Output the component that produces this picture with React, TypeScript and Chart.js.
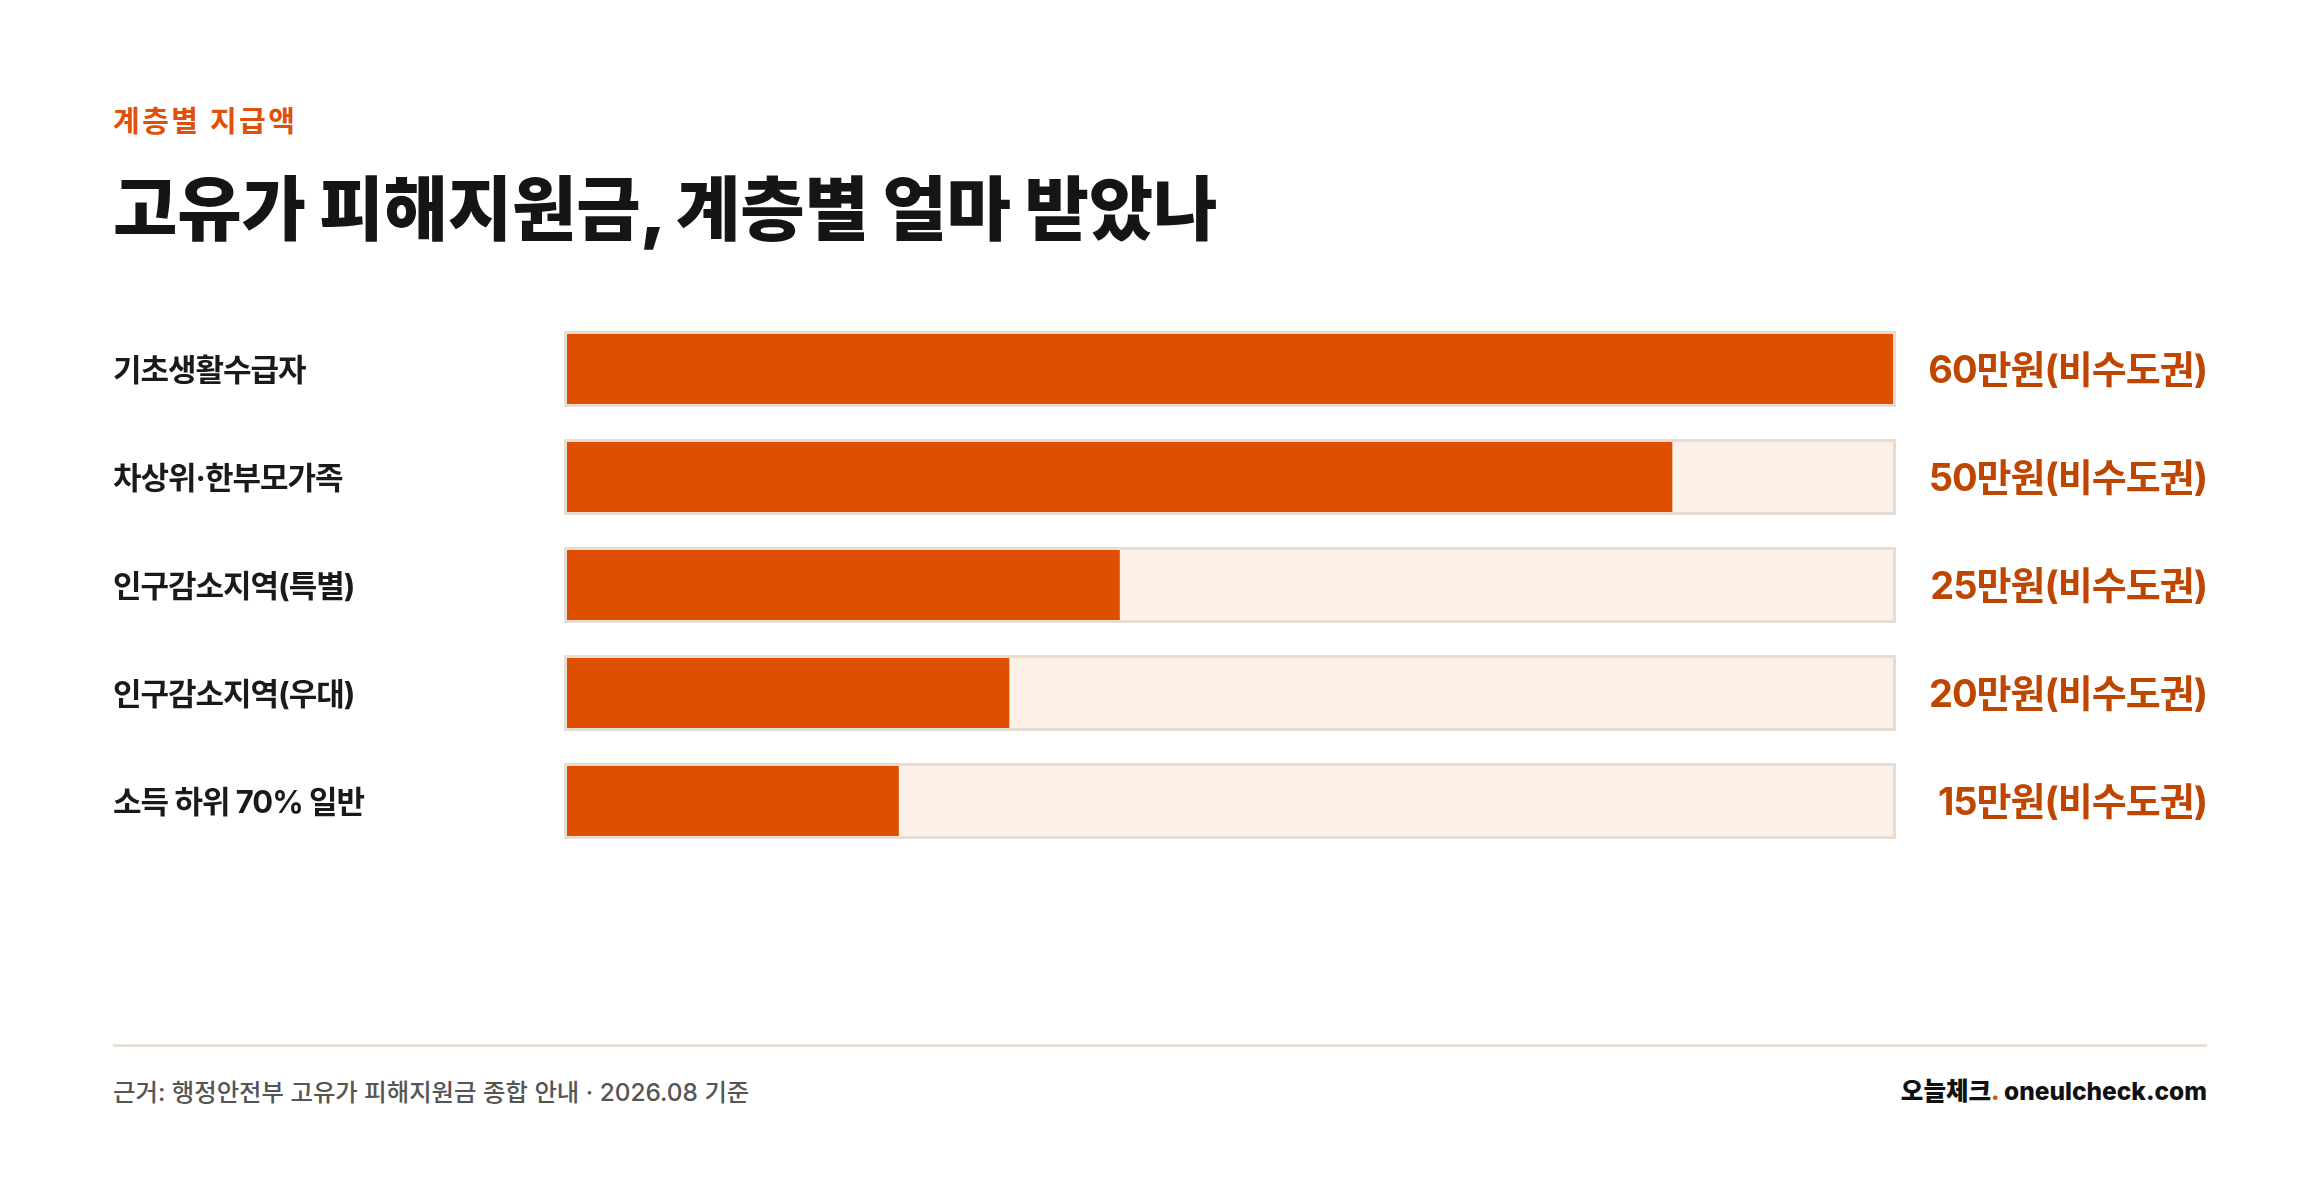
import React, { useEffect, useRef } from 'react';
import { Chart, registerables } from 'chart.js';

Chart.register(...registerables);

// 계층별 지급액 (단위: 만원)
const categories = ['기초생활수급자', '차상위·한부모가족', '인구감소지역(특별)', '인구감소지역(우대)', '소득 하위 70% 일반'];
const amounts = [60, 50, 25, 20, 15];
const amountLabels = ['60만원(비수도권)', '50만원(비수도권)', '25만원(비수도권)', '20만원(비수도권)', '15만원(비수도권)'];
const maxAmount = 60;

const FONT = "Inter, 'Noto Sans CJK KR', sans-serif";
const ORANGE = '#df4f00';
const TRACK_BG = '#fdf1e7';
const TRACK_LINE = '#e7ddd3';

// 배경 막대 테두리 + 글자 간격
const trackBorder = {
  id: 'trackBorder',
  beforeDraw(chart: any) {
    chart.ctx.letterSpacing = '-1px';
  },
  afterDatasetsDraw(chart: any) {
    const meta = chart.getDatasetMeta(1);
    const ctx = chart.ctx;
    ctx.save();
    ctx.strokeStyle = TRACK_LINE;
    ctx.lineWidth = 3;
    meta.data.forEach((bar: any) => {
      const { x, y, base, height } = bar.getProps(['x', 'y', 'base', 'height'], true);
      ctx.strokeRect(base - 1.5, y - height / 2 - 1.5, x - base + 3, height + 3);
    });
    ctx.restore();
  },
};

// 축 폭 고정, 라벨 때문에 생기는 위아래 여백 제거
const fitAxis = (width: number) => (scale: any) => {
  scale.width = width;
  scale.paddingTop = 0;
  scale.paddingBottom = 0;
};

const BarChart: React.FC = () => {
  const chartRef = useRef<HTMLCanvasElement | null>(null);
  const chartInstance = useRef<Chart | null>(null);

  useEffect(() => {
    if (!chartRef.current) return;
    if (chartInstance.current) chartInstance.current.destroy();

    chartInstance.current = new Chart(chartRef.current, {
      type: 'bar',
      data: {
        labels: categories,
        datasets: [
          {
            data: amounts,
            backgroundColor: ORANGE,
            borderWidth: 0,
            barThickness: 70,
            grouped: false,
          },
          {
            data: categories.map(() => maxAmount),
            backgroundColor: TRACK_BG,
            borderWidth: 0,
            barThickness: 70,
            grouped: false,
          },
        ],
      },
      options: {
        indexAxis: 'y',
        animation: false,
        responsive: true,
        maintainAspectRatio: false,
        layout: { padding: 0 },
        plugins: {
          legend: { display: false },
          tooltip: { enabled: false },
        },
        scales: {
          x: { min: 0, max: maxAmount, display: false },
          y: {
            position: 'left',
            grid: { display: false },
            border: { display: false },
            ticks: {
              crossAlign: 'far',
              labelOffset: 3,
              color: '#1a1a1a',
              font: { family: FONT, size: 31, weight: 'bold' },
            },
            afterFit: fitAxis(454),
          },
          y2: {
            type: 'category',
            labels: amountLabels,
            position: 'right',
            grid: { display: false },
            border: { display: false },
            ticks: {
              crossAlign: 'far',
              labelOffset: 3,
              color: '#bf4600',
              font: { family: FONT, size: 38, weight: 'bold' },
            },
            afterFit: fitAxis(314),
          },
        },
      },
      plugins: [trackBorder],
    });

    return () => {
      if (chartInstance.current) {
        chartInstance.current.destroy();
        chartInstance.current = null;
      }
    };
  }, []);

  return (
    <div style={{ position: 'absolute', left: 113, top: 315, width: 2094, height: 540 }}>
      <canvas ref={chartRef}></canvas>
    </div>
  );
};

const App: React.FC = () => {
  return (
    <div
      style={{
        position: 'absolute',
        left: 0,
        top: 0,
        width: 2320,
        height: 1190,
        background: '#ffffff',
        fontFamily: FONT,
        overflow: 'hidden',
      }}
    >
      <div
        style={{
          position: 'absolute',
          left: 113,
          top: 107,
          fontSize: 29,
          lineHeight: 1,
          fontWeight: 700,
          color: '#e0500a',
          letterSpacing: 2.5,
          whiteSpace: 'nowrap',
        }}
      >
        계층별 지급액
      </div>
      <div
        style={{
          position: 'absolute',
          left: 113,
          top: 175,
          fontSize: 70,
          lineHeight: 1,
          fontWeight: 900,
          color: '#151515',
          letterSpacing: -0.2,
          whiteSpace: 'nowrap',
        }}
      >
        고유가 피해지원금, 계층별 얼마 받았나
      </div>

      <BarChart />

      <div style={{ position: 'absolute', left: 113, top: 1044, width: 2094, height: 3, background: '#e8dfd6' }} />
      <div
        style={{
          position: 'absolute',
          left: 113,
          top: 1080,
          fontSize: 24.4,
          lineHeight: 1,
          fontWeight: 500,
          color: '#555555',
          whiteSpace: 'nowrap',
        }}
      >
        근거: 행정안전부 고유가 피해지원금 종합 안내 · 2026.08 기준
      </div>
      <div
        style={{
          position: 'absolute',
          right: 2320 - 2207,
          top: 1079,
          fontSize: 24.5,
          lineHeight: 1,
          fontWeight: 800,
          color: '#111111',
          whiteSpace: 'nowrap',
        }}
      >
        오늘체크<span style={{ color: ORANGE }}>.</span> oneulcheck.com
      </div>
    </div>
  );
};

export default App;
